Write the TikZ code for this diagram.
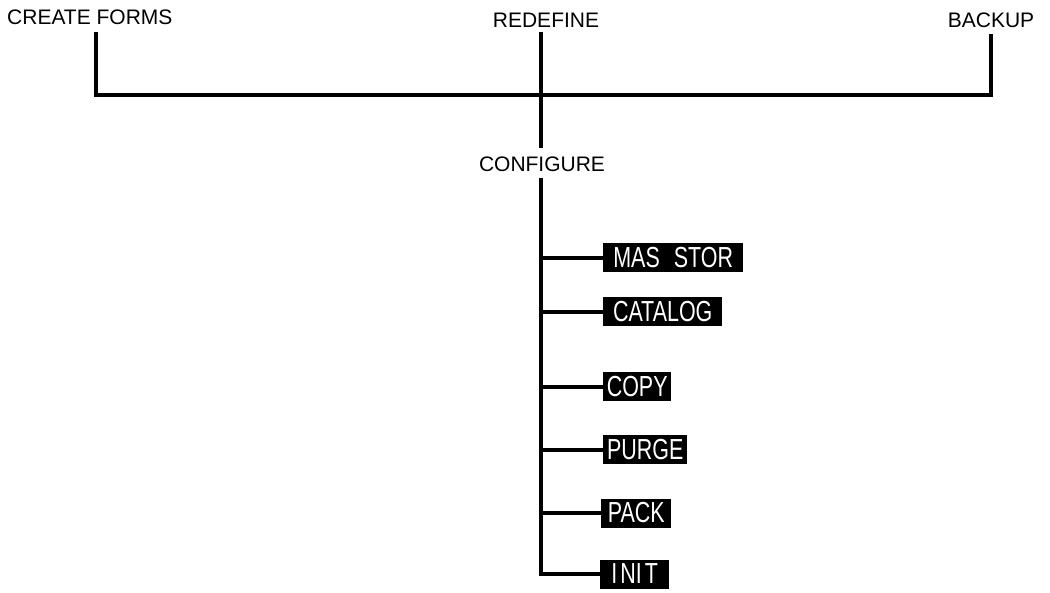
\documentclass[tikz,border=0pt]{standalone}
\usepackage{fontspec}
\setmainfont{Liberation Sans}
\newfontfamily\boxfont[FakeStretch=0.74]{Liberation Sans}
\begin{document}
\begin{tikzpicture}[x=1pt,y=-1pt,
  lbl/.style={font=\fontsize{21}{24}\selectfont, inner sep=0pt, anchor=base},
  menubox/.style={fill=black, text=white, anchor=west, inner xsep=2pt, inner ysep=0pt, minimum height=29pt,
    font=\boxfont\fontsize{29}{30}\selectfont, align=center},
  conn/.style={line width=4.8pt, line cap=butt, line join=miter}]
\useasboundingbox (0,0) rectangle (1050,593);
% top labels
\node[lbl, anchor=base west] (cf) at (7,25) {CREATE FORMS};
\node[lbl] (rd) at (546,28) {REDEFINE};
\node[lbl] (bk) at (991,28) {BACKUP};
\node[lbl] (cg) at (542,172) {CONFIGURE};
% coordinates of the bus
\coordinate (cfx) at (96,32);
\coordinate (bkx) at (991,34);
\coordinate (trunk) at (541,95);
\coordinate (rdx) at (541,32);
\coordinate (cgtop) at (541,148);
\coordinate (cgbot) at (541,178);
% menu boxes
\node[menubox, minimum width=140pt] (ms) at (603,258) {MAS\hspace{14pt}STOR};
\node[menubox, minimum width=119pt] (ca) at (603,312) {CATALOG};
\node[menubox, minimum width=68pt] (co) at (603,387) {COPY};
\node[menubox, minimum width=84pt] (pu) at (603,450) {PURGE};
\node[menubox, minimum width=70pt] (pa) at (601,513) {PACK};
\node[menubox, minimum width=69pt] (in) at (600,574) {I\hspace{3pt}NI\hspace{3pt}T};
% connectors
\draw[conn] (cfx) |- (bkx |- trunk) -- (bkx);
\draw[conn] (rdx) -- (cgtop);
\draw[conn] (cgbot) |- (in.west);
\draw[conn] (cgbot |- ms.west) -- (ms.west);
\draw[conn] (cgbot |- ca.west) -- (ca.west);
\draw[conn] (cgbot |- co.west) -- (co.west);
\draw[conn] (cgbot |- pu.west) -- (pu.west);
\draw[conn] (cgbot |- pa.west) -- (pa.west);
\end{tikzpicture}
\end{document}
